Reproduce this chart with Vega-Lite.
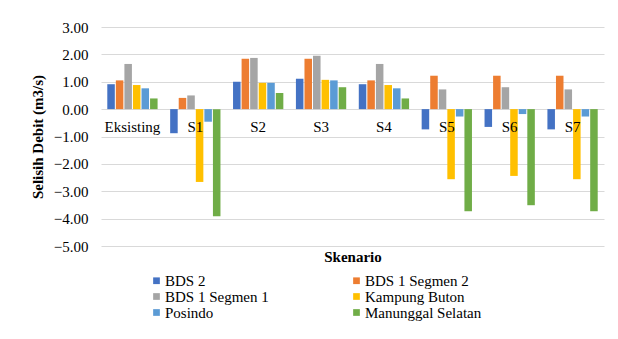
{
  "$schema": "https://vega.github.io/schema/vega-lite/v6.json",
  "width": 503,
  "height": 219,
  "autosize": "none",
  "padding": {"left": 101, "top": 27, "right": 14, "bottom": 93},
  "background": "white",
  "config": {
    "view": {"stroke": null},
    "font": "Liberation Serif",
    "axisY": {"labelOverlap": false, "grid": true, "gridColor": "#D9D9D9", "gridWidth": 1, "gridOpacity": 1}
  },
  "datasets": {
    "bars": [
      {"skenario": "Eksisting", "seri": "BDS 2", "nilai": 0.91},
      {"skenario": "Eksisting", "seri": "BDS 1 Segmen 2", "nilai": 1.05},
      {"skenario": "Eksisting", "seri": "BDS 1 Segmen 1", "nilai": 1.65},
      {"skenario": "Eksisting", "seri": "Kampung Buton", "nilai": 0.88},
      {"skenario": "Eksisting", "seri": "Posindo", "nilai": 0.76},
      {"skenario": "Eksisting", "seri": "Manunggal Selatan", "nilai": 0.39},
      {"skenario": "S1", "seri": "BDS 2", "nilai": -0.88},
      {"skenario": "S1", "seri": "BDS 1 Segmen 2", "nilai": 0.41},
      {"skenario": "S1", "seri": "BDS 1 Segmen 1", "nilai": 0.5},
      {"skenario": "S1", "seri": "Kampung Buton", "nilai": -2.66},
      {"skenario": "S1", "seri": "Posindo", "nilai": -0.46},
      {"skenario": "S1", "seri": "Manunggal Selatan", "nilai": -3.91},
      {"skenario": "S2", "seri": "BDS 2", "nilai": 1.0},
      {"skenario": "S2", "seri": "BDS 1 Segmen 2", "nilai": 1.84},
      {"skenario": "S2", "seri": "BDS 1 Segmen 1", "nilai": 1.87},
      {"skenario": "S2", "seri": "Kampung Buton", "nilai": 0.96},
      {"skenario": "S2", "seri": "Posindo", "nilai": 0.96},
      {"skenario": "S2", "seri": "Manunggal Selatan", "nilai": 0.59},
      {"skenario": "S3", "seri": "BDS 2", "nilai": 1.11},
      {"skenario": "S3", "seri": "BDS 1 Segmen 2", "nilai": 1.84},
      {"skenario": "S3", "seri": "BDS 1 Segmen 1", "nilai": 1.95},
      {"skenario": "S3", "seri": "Kampung Buton", "nilai": 1.07},
      {"skenario": "S3", "seri": "Posindo", "nilai": 1.05},
      {"skenario": "S3", "seri": "Manunggal Selatan", "nilai": 0.8},
      {"skenario": "S4", "seri": "BDS 2", "nilai": 0.91},
      {"skenario": "S4", "seri": "BDS 1 Segmen 2", "nilai": 1.05},
      {"skenario": "S4", "seri": "BDS 1 Segmen 1", "nilai": 1.65},
      {"skenario": "S4", "seri": "Kampung Buton", "nilai": 0.88},
      {"skenario": "S4", "seri": "Posindo", "nilai": 0.76},
      {"skenario": "S4", "seri": "Manunggal Selatan", "nilai": 0.39},
      {"skenario": "S5", "seri": "BDS 2", "nilai": -0.74},
      {"skenario": "S5", "seri": "BDS 1 Segmen 2", "nilai": 1.22},
      {"skenario": "S5", "seri": "BDS 1 Segmen 1", "nilai": 0.72},
      {"skenario": "S5", "seri": "Kampung Buton", "nilai": -2.56},
      {"skenario": "S5", "seri": "Posindo", "nilai": -0.27},
      {"skenario": "S5", "seri": "Manunggal Selatan", "nilai": -3.73},
      {"skenario": "S6", "seri": "BDS 2", "nilai": -0.65},
      {"skenario": "S6", "seri": "BDS 1 Segmen 2", "nilai": 1.22},
      {"skenario": "S6", "seri": "BDS 1 Segmen 1", "nilai": 0.8},
      {"skenario": "S6", "seri": "Kampung Buton", "nilai": -2.44},
      {"skenario": "S6", "seri": "Posindo", "nilai": -0.18},
      {"skenario": "S6", "seri": "Manunggal Selatan", "nilai": -3.51},
      {"skenario": "S7", "seri": "BDS 2", "nilai": -0.74},
      {"skenario": "S7", "seri": "BDS 1 Segmen 2", "nilai": 1.22},
      {"skenario": "S7", "seri": "BDS 1 Segmen 1", "nilai": 0.72},
      {"skenario": "S7", "seri": "Kampung Buton", "nilai": -2.56},
      {"skenario": "S7", "seri": "Posindo", "nilai": -0.27},
      {"skenario": "S7", "seri": "Manunggal Selatan", "nilai": -3.73}
    ],
    "labels": [
      {"skenario": "Eksisting"}, {"skenario": "S1"}, {"skenario": "S2"}, {"skenario": "S3"},
      {"skenario": "S4"}, {"skenario": "S5"}, {"skenario": "S6"}, {"skenario": "S7"}
    ]
  },
  "layer": [
    {
      "data": {"name": "bars"},
      "mark": {"type": "bar"},
      "encoding": {
        "x": {
          "field": "skenario", "type": "nominal",
          "sort": ["Eksisting", "S1", "S2", "S3", "S4", "S5", "S6", "S7"],
          "scale": {"paddingInner": 0.2, "paddingOuter": 0.1},
          "axis": {
            "labels": false, "ticks": false, "domain": false,
            "title": "Skenario", "titleFont": "Liberation Serif", "titleFontSize": 15,
            "titleFontWeight": "bold", "titleColor": "black", "titlePadding": 3
          }
        },
        "xOffset": {
          "field": "seri", "type": "nominal",
          "sort": ["BDS 2", "BDS 1 Segmen 2", "BDS 1 Segmen 1", "Kampung Buton", "Posindo", "Manunggal Selatan"],
          "scale": {"paddingInner": 0.12}
        },
        "y": {
          "field": "nilai", "type": "quantitative",
          "scale": {"domain": [-5, 3], "nice": false, "zero": false},
          "axis": {
            "values": [-5, -4, -3, -2, -1, 0, 1, 2, 3], "format": ".2f", "labelOverlap": false,
            "grid": true, "domain": false, "ticks": false,
            "labelFont": "Liberation Serif", "labelFontSize": 15, "labelColor": "black", "labelPadding": 13,
            "title": "Selisih Debit (m3/s)", "titleFont": "Liberation Serif", "titleFontSize": 15,
            "titleFontWeight": "bold", "titleColor": "black", "titlePadding": 8
          }
        },
        "color": {
          "field": "seri", "type": "nominal",
          "scale": {
            "domain": ["BDS 2", "BDS 1 Segmen 2", "BDS 1 Segmen 1", "Kampung Buton", "Posindo", "Manunggal Selatan"],
            "range": ["#4472C4", "#ED7D31", "#A5A5A5", "#FFC000", "#5B9BD5", "#70AD47"]
          },
          "legend": {
            "orient": "none", "legendX": 48, "legendY": 246, "direction": "horizontal", "columns": 2,
            "title": null, "symbolType": "square", "symbolSize": 45, "symbolStrokeWidth": 0,
            "labelFont": "Liberation Serif", "labelFontSize": 15, "labelColor": "black", "labelOffset": 1,
            "rowPadding": -1, "columnPadding": 80, "padding": 0, "labelLimit": 300
          }
        }
      }
    },
    {
      "data": {"name": "labels"},
      "mark": {"type": "text", "baseline": "alphabetic", "dy": 23, "font": "Liberation Serif", "fontSize": 15, "color": "black"},
      "encoding": {
        "x": {"field": "skenario", "type": "nominal", "sort": ["Eksisting", "S1", "S2", "S3", "S4", "S5", "S6", "S7"]},
        "y": {
          "datum": 0, "type": "quantitative",
          "axis": {
            "values": [-5, -4, -3, -2, -1, 0, 1, 2, 3], "format": ".2f", "labelOverlap": false,
            "grid": true, "domain": false, "ticks": false,
            "labelFont": "Liberation Serif", "labelFontSize": 15, "labelColor": "black", "labelPadding": 13,
            "title": "Selisih Debit (m3/s)", "titleFont": "Liberation Serif", "titleFontSize": 15,
            "titleFontWeight": "bold", "titleColor": "black", "titlePadding": 8
          }
        },
        "text": {"field": "skenario"}
      }
    }
  ]
}
